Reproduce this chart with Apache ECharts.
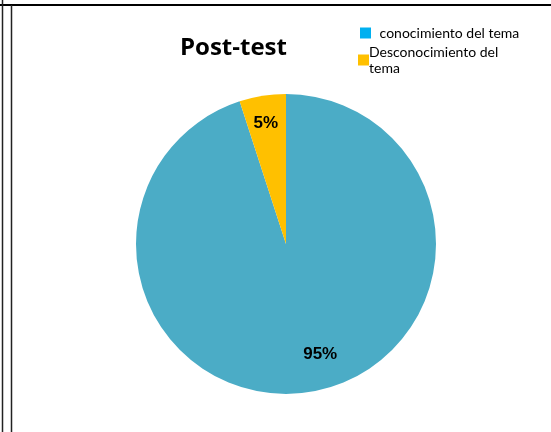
<!DOCTYPE html>
<html>
<head>
<meta charset="utf-8">
<script src="https://cdn.jsdelivr.net/npm/echarts@6/dist/echarts.min.js"></script>
<style>
  html, body { margin: 0; padding: 0; background: #fff; }
  #chart { width: 551px; height: 432px; }
</style>
</head>
<body>
<div id="chart"></div>
<script>
// Post-test results: share of respondents who know the topic
const categories = ['conocimiento del tema', 'Desconocimiento del tema'];
const values = [95, 5];
const sliceColors = ['#4BACC6', '#FFC000'];
const legendColors = ['#00B0F0', '#FFC000'];
const valueLabels = ['95%', '5%'];

const chart = echarts.init(document.getElementById('chart'), null, { renderer: 'canvas' });

const pieData = categories.map((name, i) => ({
  name: name,
  value: values[i],
  itemStyle: { color: sliceColors[i] },
  label: {
    formatter: valueLabels[i],
    offset: i === 0 ? [22, 33] : [-8, -44]
  }
}));

const legendText = { fontFamily: 'Lato', fontSize: 14, color: '#000', lineHeight: 16 };

chart.setOption({
  backgroundColor: '#fff',
  animation: false,
  title: {
    text: 'Post-test',
    left: 175,
    top: 31,
    textStyle: { fontFamily: 'Open Sans', fontWeight: 'bold', fontSize: 24, color: '#000' }
  },
  legend: [
    {
      orient: 'vertical', left: 355, top: 20,
      itemWidth: 11, itemHeight: 11, itemGap: 0,
      icon: 'rect',
      data: [{ name: categories[0], itemStyle: { color: legendColors[0] } }],
      formatter: (name) => ' ' + name,
      textStyle: legendText,
      selectedMode: false
    },
    {
      orient: 'vertical', left: 353, top: 39,
      itemWidth: 11, itemHeight: 11, itemGap: 0,
      icon: 'rect',
      data: [{ name: categories[1], itemStyle: { color: legendColors[1] } }],
      formatter: () => 'Desconocimiento del\ntema',
      textStyle: Object.assign({ padding: [0, 0, 0, -5] }, legendText),
      selectedMode: false
    }
  ],
  graphic: [
    { type: 'rect', shape: { x: 0, y: 4, width: 551, height: 2 }, style: { fill: '#000' }, silent: true },
    { type: 'line', shape: { x1: 2.5, y1: 0, x2: 2.5, y2: 432 }, style: { stroke: '#222', lineWidth: 1.5 }, silent: true },
    { type: 'line', shape: { x1: 11.5, y1: 5, x2: 11.5, y2: 432 }, style: { stroke: '#222', lineWidth: 1.5 }, silent: true }
  ],
  series: [{
    type: 'pie',
    center: [286, 244],
    radius: [0, 150],
    startAngle: 90,
    clockwise: true,
    data: pieData,
    label: {
      show: true,
      position: 'inside',
      fontFamily: 'Liberation Sans',
      fontWeight: 'bold',
      fontSize: 17,
      color: '#000'
    },
    labelLine: { show: false },
    itemStyle: { borderWidth: 0 },
    emphasis: { disabled: true }
  }]
});
</script>
</body>
</html>
